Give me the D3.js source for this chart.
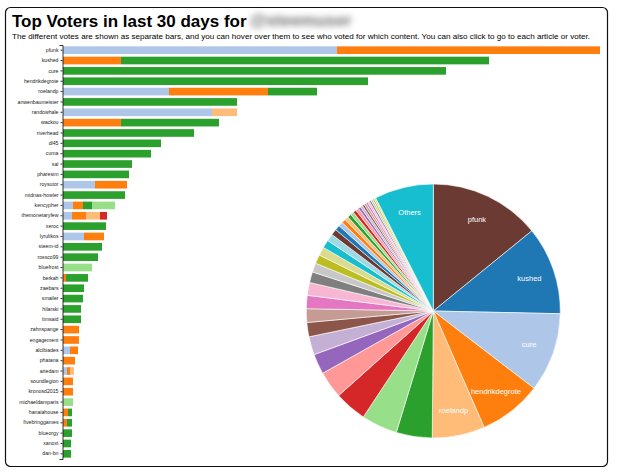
<!DOCTYPE html>
<html>
<head>
<meta charset="utf-8">
<script src="https://cdn.jsdelivr.net/npm/d3@7/dist/d3.min.js"></script>
<style>
  html, body { margin: 0; padding: 0; background: #fff; }
  svg { display: block; font-family: "Liberation Sans", Arial, sans-serif; }
</style>
</head>
<body>
<svg id="chart" width="620" height="475"></svg>
<script>
// ---- data ----
const voters = ["pfunk","kushed","cure","hendrikdegrote","roelandp","anwenbaumeister","randowhale","wackou","riverhead","dl45",
  "cuma","sal","pharesim","roysutor","midnas-howler","kencypher","themonetaryfew","xeroc","lyrulikos","steem-id",
  "rossco99","bluefrost","berkah","zaebars","smailer","hilarski","timsaid","zahnspange","engagement","alcibiades",
  "phatana","ariedam","soundlegion","kronosd2015","michaeldamparis","hanaiahouse","fivebringgames","blueorgy","xanoxt","dan-bn"];
const articles = ["article1","article2","article3","article4","article5","article6"];
const article1 = [274,0,0,0,106,0,149,0,0,0, 0,0,0,32,0,10,9,0,21,0, 0,0,0,0,0,0,0,0,0,7, 0,4,0,0,0,0,0,0,0,0];
const article2 = [263,58,0,0,99,0,0,58,0,0, 0,0,0,32,0,10,14,0,20,0, 0,0,3,0,0,0,0,16,16,8, 12,3,10,10,0,5,4,0,0,0];
const article3 = [0,0,0,0,0,0,25,0,0,0, 0,0,0,0,0,0,14,0,0,0, 0,0,0,0,0,0,0,0,0,0, 0,4,0,0,0,0,0,0,0,0];
const article4 = [0,368,383,305,49,174,0,98,131,98, 88,69,66,0,62,9,0,43,0,39, 35,0,22,21,20,18,18,0,0,0, 0,0,0,0,0,4,5,9,8,8];
const article5 = [0,0,0,0,0,0,0,0,0,0, 0,0,0,0,0,23,0,0,0,0, 0,29,0,0,0,0,0,0,0,0, 0,0,0,0,10,0,0,0,0,0];
const article6 = [0,0,0,0,0,0,0,0,0,0, 0,0,0,0,0,0,7,0,0,0, 0,0,0,0,0,0,0,0,0,0, 0,0,0,0,0,0,0,0,0,0];
const othersLabel = "Others";
const othersValue = 285;

const articleColors = ["#aec7e8","#ff7f0e","#ffbb78","#2ca02c","#98df8a","#d62728"];
const pieColors = ["#6b3a32","#1f77b4","#aec7e8","#ff7f0e","#ffbb78","#2ca02c","#98df8a","#d62728","#ff9896",
  "#9467bd","#c5b0d5","#8c564b","#c49c94","#e377c2","#f7b6d2","#7f7f7f","#c7c7c7","#bcbd22","#dbdb8d","#17becf","#9edae5"];

// ---- build ----
const series = [article1,article2,article3,article4,article5,article6];
const rows = voters.map((v,i) => {
  const o = {voter: v};
  articles.forEach((a,j) => o[a] = series[j][i]);
  return o;
});
const totals = rows.map(r => articles.reduce((s,a) => s + r[a], 0));

const svg = d3.select("#chart");

const defs = svg.append("defs");
defs.append("filter").attr("id","blur").attr("x","-20%").attr("y","-60%").attr("width","140%").attr("height","220%")
  .append("feGaussianBlur").attr("stdDeviation", 3.2);

// frame
svg.append("rect").attr("x",5.5).attr("y",7.5).attr("width",602).attr("height",459)
  .attr("rx",5).attr("fill","none").attr("stroke","#111").attr("stroke-width",1.2);

// title
svg.append("text").attr("x",12).attr("y",27).attr("font-size",17).attr("font-weight","bold").attr("fill","#000")
  .text("Top Voters in last 30 days for");
svg.append("text").attr("x",250).attr("y",26).attr("font-size",17).attr("font-weight","bold")
  .attr("fill","#707070").attr("filter","url(#blur)").text("@steemuser");
svg.append("text").attr("x",12).attr("y",38.5).attr("font-size",8.1).attr("fill","#000")
  .text("The different votes are shown as separate bars, and you can hover over them to see who voted for which content. You can also click to go to each article or voter.");

// bar chart
const x = d3.scaleLinear().domain([0, d3.max(totals)]).range([63, 600]);
const y = d3.scaleBand().domain(voters).range([45, 459]).paddingInner(0.26).paddingOuter(0.13);
const stack = d3.stack().keys(articles)(rows);

const gBars = svg.append("g");
stack.forEach((layer, j) => {
  gBars.append("g").attr("fill", articleColors[j])
    .selectAll("rect").data(layer.filter(d => d[1] > d[0])).join("rect")
    .attr("x", d => x(d[0])).attr("width", d => x(d[1]) - x(d[0]))
    .attr("y", d => y(d.data.voter)).attr("height", y.bandwidth());
});

const axis = svg.append("g").attr("transform","translate(62.5,0)")
  .call(d3.axisLeft(y).tickSizeInner(2).tickSizeOuter(3).tickPadding(2));
axis.select(".domain").attr("stroke","#000").attr("stroke-width",0.8);
axis.selectAll(".tick line").attr("stroke","#000").attr("stroke-width",0.8);
axis.selectAll("text").attr("font-size",5.2).attr("fill","#222").attr("font-family","Liberation Sans, Arial, sans-serif");

// pie
const pieData = voters.map((v,i) => ({name: v, value: totals[i]}));
pieData.push({name: othersLabel, value: othersValue});
const cx = 433.3, cy = 311, R = 127;
const pie = d3.pie().sort(null).value(d => d.value);
const arcs = pie(pieData);
const arc = d3.arc().innerRadius(0).outerRadius(R);
const labelArc = d3.arc().innerRadius(R*0.8).outerRadius(R*0.8);
const gPie = svg.append("g").attr("transform", `translate(${cx},${cy})`);
gPie.selectAll("path").data(arcs).join("path")
  .attr("d", arc).attr("fill", (d,i) => pieColors[i % pieColors.length])
  .attr("stroke","#fff").attr("stroke-width",0.6);
gPie.selectAll("text").data(arcs.filter(d => (d.endAngle - d.startAngle) > 0.35)).join("text")
  .attr("transform", d => `translate(${labelArc.centroid(d)})`)
  .attr("text-anchor","middle").attr("dy","0.35em")
  .attr("font-size",7.5).attr("fill","#fff")
  .text(d => d.data.name);
</script>
</body>
</html>
